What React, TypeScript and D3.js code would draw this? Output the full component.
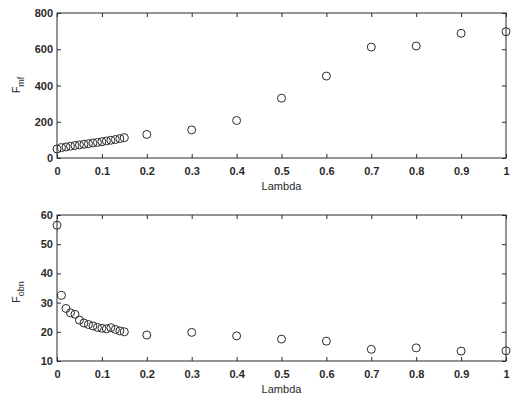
import React, { useEffect, useRef } from 'react';
import * as d3 from 'd3';

const lambdaFine = [0, 0.01, 0.02, 0.03, 0.04, 0.05, 0.06, 0.07, 0.08, 0.09, 0.1, 0.11, 0.12, 0.13, 0.14, 0.15];
const lambdaCoarse = [0.2, 0.3, 0.4, 0.5, 0.6, 0.7, 0.8, 0.9, 1];

const fmfFine = [50, 57, 61, 65, 69, 72, 76, 79, 83, 86, 90, 94, 98, 102, 107, 112];
const fmfCoarse = [130, 155, 207, 330, 452, 612, 618, 688, 697];

const fobnFine = [56.5, 32.5, 28, 26.5, 26, 24, 23, 22.5, 22, 21.5, 21.2, 21, 21.4, 20.8, 20.3, 20];
const fobnCoarse = [18.9, 19.8, 18.6, 17.5, 16.8, 14.0, 14.5, 13.4, 13.5];

const xTicks = [0, 0.1, 0.2, 0.3, 0.4, 0.5, 0.6, 0.7, 0.8, 0.9, 1];
const topYTicks = [0, 200, 400, 600, 800];
const botYTicks = [10, 20, 30, 40, 50, 60];

const ink = '#2a2a2a';

const App = () => {
    const ref = useRef<SVGSVGElement>(null);

    useEffect(() => {
        if (!ref.current) return;
        const svg = d3.select(ref.current);
        svg.selectAll('*').remove();

        const lambda = lambdaFine.concat(lambdaCoarse);

        const panels = [
            { top: 13, bottom: 158, domain: [0, 800], ticks: topYTicks, values: fmfFine.concat(fmfCoarse), sub: 'mf', labelY: 85 },
            { top: 215, bottom: 361, domain: [10, 60], ticks: botYTicks, values: fobnFine.concat(fobnCoarse), sub: 'obn', labelY: 292 }
        ];

        const left = 57, right = 506;

        panels.forEach(p => {
            const x = d3.scaleLinear().domain([0, 1]).range([left, right]);
            const y = d3.scaleLinear().domain(p.domain).range([p.bottom, p.top]);
            const g = svg.append('g');

            const styleAxis = (sel: any, showText: boolean) => {
                sel.select('.domain').remove();
                sel.selectAll('.tick line').attr('stroke', ink).attr('stroke-width', 1);
                if (!showText) sel.selectAll('.tick text').remove();
                else sel.selectAll('.tick text')
                    .attr('fill', ink)
                    .attr('font-family', 'Liberation Sans, Arial, sans-serif')
                    .attr('font-size', 11)
                    .attr('font-weight', 'bold');
            };

            // inward ticks on all four sides
            g.append('g').attr('transform', `translate(0,${p.bottom})`)
                .call(d3.axisBottom(x).tickValues(xTicks).tickSize(-4).tickPadding(9).tickFormat(d3.format('~g')))
                .call(s => styleAxis(s, true));
            g.append('g').attr('transform', `translate(0,${p.top})`)
                .call(d3.axisTop(x).tickValues(xTicks).tickSize(-4))
                .call(s => styleAxis(s, false));
            g.append('g').attr('transform', `translate(${left},0)`)
                .call(d3.axisLeft(y).tickValues(p.ticks).tickSize(-4).tickPadding(4))
                .call(s => styleAxis(s, true));
            g.append('g').attr('transform', `translate(${right},0)`)
                .call(d3.axisRight(y).tickValues(p.ticks).tickSize(-4))
                .call(s => styleAxis(s, false));

            g.append('rect')
                .attr('x', left).attr('y', p.top)
                .attr('width', right - left).attr('height', p.bottom - p.top)
                .attr('fill', 'none').attr('stroke', ink).attr('stroke-width', 1);

            g.selectAll('circle.pt')
                .data(p.values)
                .enter()
                .append('circle')
                .attr('class', 'pt')
                .attr('cx', (_d, i) => x(lambda[i]))
                .attr('cy', d => y(d))
                .attr('r', 4)
                .attr('fill', 'none')
                .attr('stroke', ink)
                .attr('stroke-width', 1);

            g.append('text')
                .attr('x', (left + right) / 2)
                .attr('y', p.bottom + 32)
                .attr('text-anchor', 'middle')
                .attr('fill', ink)
                .attr('font-family', 'Liberation Sans, Arial, sans-serif')
                .attr('font-size', 11)
                .text('Lambda');

            const lab = g.append('text')
                .attr('transform', `translate(20,${p.labelY}) rotate(-90)`)
                .attr('text-anchor', 'middle')
                .attr('fill', ink)
                .attr('font-family', 'Liberation Sans, Arial, sans-serif')
                .attr('font-size', 11);
            lab.append('tspan').text('F');
            lab.append('tspan').attr('dy', 4).attr('font-size', 9).text(p.sub);
        });
    }, []);

    return (
        <svg ref={ref} width={518} height={400}
            style={{ position: 'absolute', left: 0, top: 0, background: '#fff' }} />
    );
};

export default App;
